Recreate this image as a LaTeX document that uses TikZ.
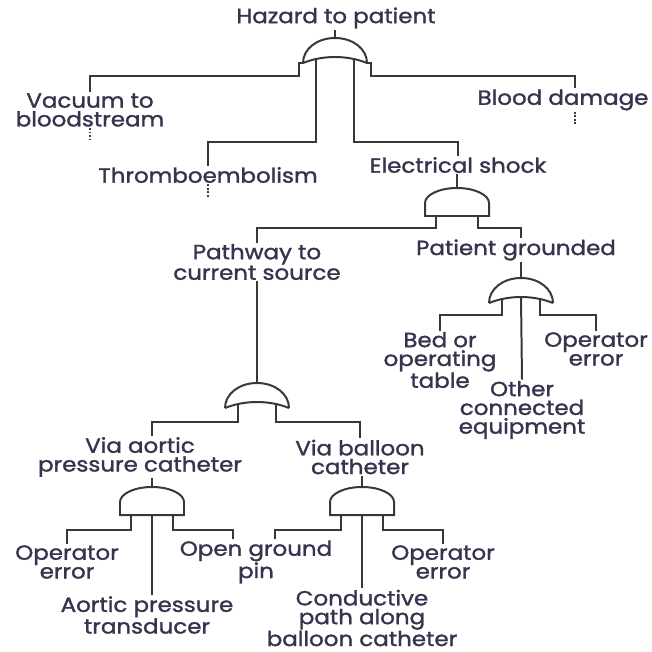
\documentclass[tikz,border=0pt]{standalone}
\usepackage{fontspec}
\setmainfont{Poppins}
\newfontfamily\labelfont{Poppins}[FakeStretch=1.12, FakeBold=1.4]
\usetikzlibrary{calc}
\definecolor{ink}{HTML}{34344E}
\definecolor{wire}{HTML}{383838}

\begin{document}
\begin{tikzpicture}[
  x=0.03cm, y=-0.03cm,
  event/.style={align=center, text=ink, inner sep=1pt,
                font=\labelfont\fontsize{17.5}{16}\selectfont},
  link/.style={draw=wire, line width=1.7pt},
  cont/.style={draw=wire, line width=2.4pt, dash pattern=on 1.6pt off 1.4pt},
  orgate/.pic={
    \draw[link] (-32,25) .. controls (-32,11) and (-18,0) .. (0,0)
                         .. controls (18,0) and (32,11) .. (32,25);
    \draw[link] (-32,25) .. controls (-12,17) and (12,17) .. (32,25);
    \coordinate (-in) at (0,0);
    \coordinate (-ll) at (-32,25);
    \coordinate (-rr) at (32,25);
    \coordinate (-l) at (-19,21);
    \coordinate (-r) at (19,21);
    \coordinate (-c) at (0,19);
  },
  andgate/.pic={
    \draw[link] (-32,28) -- (-32,15) .. controls (-32,7) and (-18,0) .. (0,0)
                .. controls (18,0) and (32,7) .. (32,15) -- (32,28) -- cycle;
    \coordinate (-in) at (0,0);
    \coordinate (-l) at (-21,28);
    \coordinate (-r) at (21,28);
    \coordinate (-c) at (0,28);
  }
]
  \useasboundingbox (0,0) rectangle (652,652);

  % events
  \node[event] (haz) at (336,18) {Hazard to patient};
  \node[event] (vac) at (90,110) {Vacuum to\\bloodstream};
  \node[event] (thr) at (208,175) {Thromboembolism};
  \node[event] (bld) at (563,100) {Blood damage};
  \node[event] (esh) at (458,165) {Electrical shock};
  \node[event] (path) at (257,262) {Pathway to\\current source};
  \node[event] (pgr) at (516,250) {Patient grounded};
  \node[event] (bed) at (440,360) {Bed or\\operating\\table};
  \node[event] (oth) at (522,410) {Other\\connected\\equipment};
  \node[event] (opg) at (596,349) {Operator\\error};
  \node[event] (aor) at (140,457) {Via aortic\\pressure catheter};
  \node[event] (bal) at (360,457) {Via balloon\\catheter};
  \node[event] (opa) at (67,562) {Operator\\error};
  \node[event] (pin) at (256,562) {Open ground\\pin};
  \node[event] (opb) at (443,562) {Operator\\error};
  \node[event] (apt) at (147,615) {Aortic pressure\\transducer};
  \node[event] (cnd) at (362,618) {Conductive\\path along\\balloon catheter};

  % gates
  \pic (hz) at (335,38) {orgate};
  \pic (es) at (457,188) {andgate};
  \pic (pw) at (257,383) {orgate};
  \pic (pg) at (521,278) {orgate};
  \pic (ag) at (152,487) {andgate};
  \pic (bg) at (362,487) {andgate};

  % top
  \draw[link] (haz.south -| hz-in) -- (hz-in);
  \draw[link] (hz-ll) -- ++(-4,0) -- ++(0,13) -| (vac.north);
  \draw[link] (hz-rr) -- ++(4,0) -- ++(0,13) -| ($(bld.north)+(12,0)$);
  \draw[link] (hz-l) -- ++(0,83) -| (thr.north);
  \draw[link] (hz-r) -- ++(0,83) -| (esh.north);
  \draw[cont] (vac.south) -- ++(0,13);
  \draw[cont] (thr.south) -- ++(0,13);
  \draw[cont] ($(bld.south)+(12,0)$) -- ++(0,13);

  % electrical shock
  \draw[link] (esh.south -| es-in) -- (es-in);
  \draw[link] (es-l) -- ++(0,12) -| (path.north);
  \draw[link] (es-r) -- ++(0,12) -| (pgr.north -| pg-in);

  % patient grounded
  \draw[link] (pgr.south -| pg-in) -- (pg-in);
  \draw[link] (pg-l) -- ++(0,16) -| (bed.north);
  \draw[link] (pg-r) -- ++(0,16) -| (opg.north);
  \draw[link] (pg-c) -- (oth.north);

  % pathway
  \draw[link] (path.south -| pw-in) -- (pw-in);
  \draw[link] (pw-l) -- ++(0,18) -| ($(aor.north)+(12,0)$);
  \draw[link] (pw-r) -- ++(0,18) -| (bal.north);

  % aortic catheter
  \draw[link] (aor.south -| ag-in) -- (ag-in);
  \draw[link] (ag-l) -- ++(0,15) -| (opa.north);
  \draw[link] (ag-r) -- ++(0,15) -| ($(pin.north)+(-23,0)$);
  \draw[link] (ag-c) -- (apt.north -| ag-c);

  % balloon catheter
  \draw[link] (bal.south -| bg-in) -- (bg-in);
  \draw[link] (bg-l) -- ++(0,15) -| ($(pin.north)+(19,0)$);
  \draw[link] (bg-r) -- ++(0,15) -| (opb.north);
  \draw[link] (bg-c) -- (cnd.north);
\end{tikzpicture}
\end{document}
